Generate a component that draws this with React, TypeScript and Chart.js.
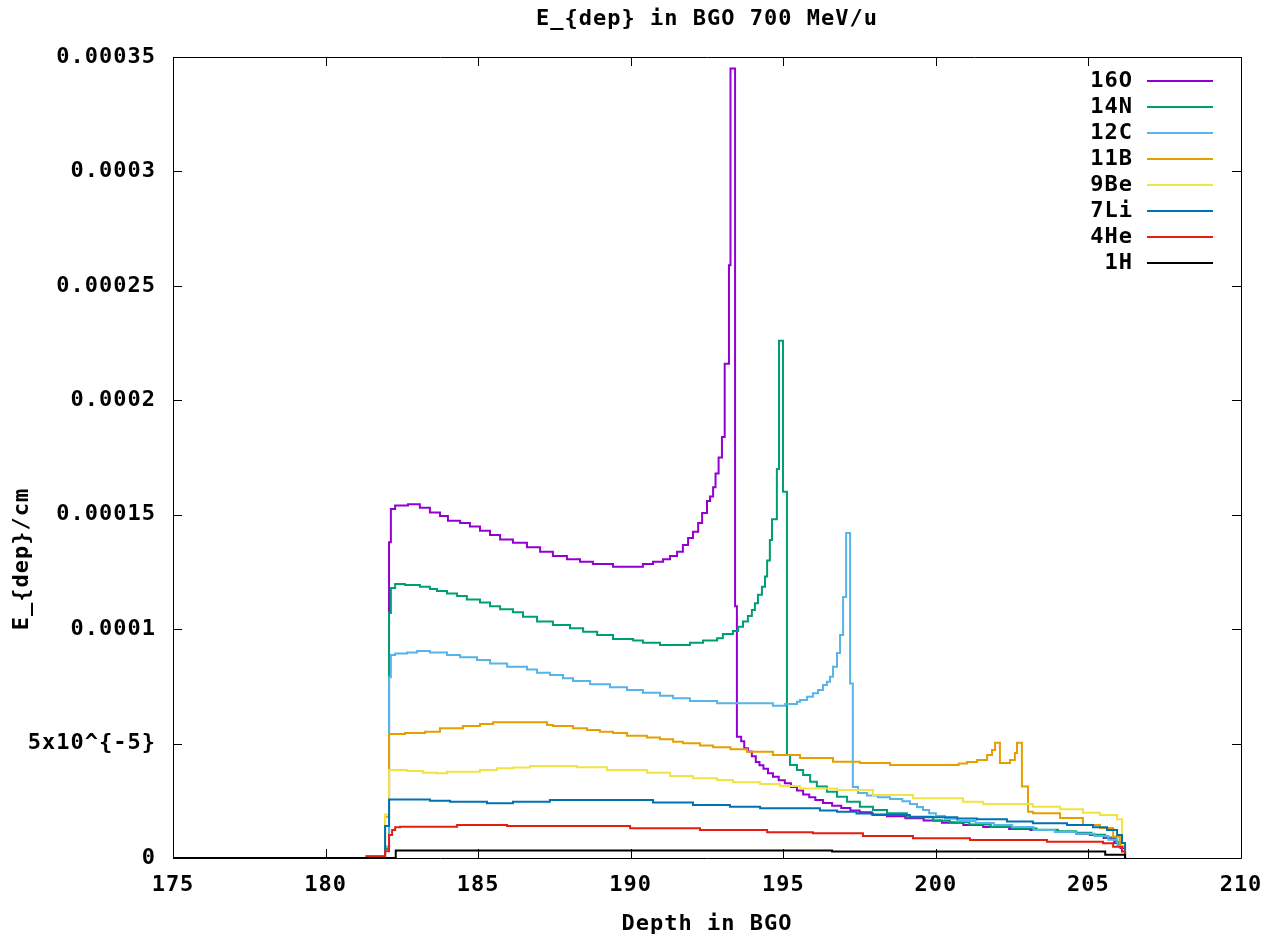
import { useEffect, useRef } from 'react';
import { Chart, registerables } from 'chart.js';

Chart.register(...registerables);

// values are in units of 1e-6 (E_dep per cm)
const SCALE = 1e-6;

const seriesNames = ['16O', '14N', '12C', '11B', '9Be', '7Li', '4He', '1H'];
const seriesColors = ['#9400d3', '#009e73', '#56b4e9', '#e69f00', '#f0e442', '#0072b2', '#e51e10', '#000000'];

const xTickLabels = ['175', '180', '185', '190', '195', '200', '205', '210'];
const yTickLabels = ['0', '5x10^{-5}', '0.0001', '0.00015', '0.0002', '0.00025', '0.0003', '0.00035'];

const titleText = 'E_{dep} in BGO 700 MeV/u';
const xTitleText = 'Depth in BGO';
const yTitleText = 'E_{dep}/cm';

// histogram bin left edges and bin values (x 1e-6)
const o16Edges = [175, 181.35, 181.95, 182.08, 182.14, 182.28, 182.7, 183.09, 183.42, 183.75, 184.01, 184.41, 184.73, 185.06, 185.39, 185.72, 186.14, 186.6, 187.03, 187.45, 187.91, 188.34, 188.76, 189.42, 190.4, 190.73, 191.06, 191.29, 191.52, 191.71, 191.88, 192.04, 192.21, 192.34, 192.5, 192.6, 192.7, 192.78, 192.88, 192.99, 193.08, 193.22, 193.27, 193.42, 193.48, 193.62, 193.72, 193.84, 193.97, 194.1, 194.22, 194.35, 194.5, 194.66, 194.85, 195.05, 195.25, 195.45, 195.65, 195.85, 196.05, 196.3, 196.6, 196.9, 197.2, 197.5, 197.9, 198.4, 199.0, 199.6, 200.2, 200.9, 201.55, 202.4, 203.1, 203.9, 204.6, 205.05, 205.5, 205.85, 206.05, 206.2];
const o16Values = [0, 0.8, 4, 138, 152.5, 154, 154.6, 153, 151, 149.4, 147.4, 146.4, 144.8, 143, 141.1, 139.2, 137.8, 135.8, 133.8, 132, 130.5, 129.5, 128.5, 127.3, 128.5, 129.5, 130.5, 132, 133.8, 136.8, 139.8, 142.6, 146.4, 150.7, 156, 158, 162, 168, 175, 184, 216, 259, 345, 110, 53, 51, 48, 46.5, 44.5, 42, 40.5, 39, 37, 35.5, 34, 32.7, 31, 29.5, 27.8, 26.5, 25.3, 24, 22.8, 21.8, 20.8, 20, 19, 18.2, 17.4, 16.4, 15.4, 14.4, 13.5, 12.7, 12.2, 11.4, 10.6, 10, 8.7, 6.5, 4.4, 0];

const n14Edges = [175, 181.35, 181.95, 182.08, 182.14, 182.28, 182.6, 183.09, 183.42, 183.65, 183.98, 184.31, 184.63, 185.06, 185.39, 185.72, 186.14, 186.47, 186.93, 187.45, 188.01, 188.44, 188.9, 189.42, 190.08, 190.4, 190.96, 191.94, 192.37, 192.83, 193.02, 193.35, 193.52, 193.68, 193.84, 193.97, 194.07, 194.17, 194.3, 194.4, 194.47, 194.56, 194.63, 194.79, 194.86, 194.99, 195.12, 195.22, 195.45, 195.65, 195.88, 196.1, 196.43, 196.76, 197.09, 197.51, 197.94, 198.4, 199.05, 199.91, 200.46, 201.1, 201.8, 202.5, 203.3, 204.0, 204.6, 205.1, 205.55, 205.9, 206.08, 206.2];
const n14Values = [0, 0.8, 4, 107, 118, 119.7, 119.3, 118.5, 117.5, 116.7, 115.6, 114.5, 113, 111.6, 110, 108.7, 107.4, 105.4, 103.3, 101.8, 100.4, 98.9, 97.4, 95.7, 95, 94.1, 93.1, 94.1, 95, 96, 97.9, 99.2, 101, 103.3, 105.7, 108.4, 111.3, 115, 118.5, 123, 130, 139, 148, 170, 226, 160, 45, 40.6, 38.5, 36.3, 33.3, 31.2, 29, 26.8, 24.6, 22.4, 21, 19.6, 17.8, 16.3, 15.6, 14.6, 13.6, 12.9, 12.3, 11.7, 11, 10.2, 9, 7, 4.8, 0];

const c12Edges = [175, 181.35, 181.95, 182.08, 182.14, 182.28, 182.67, 183.0, 183.42, 183.98, 184.41, 184.96, 185.39, 185.95, 186.6, 186.93, 187.35, 187.78, 188.11, 188.67, 189.32, 189.88, 190.4, 190.96, 191.39, 191.94, 192.83, 194.66, 195.06, 195.45, 195.55, 195.78, 195.97, 196.14, 196.3, 196.43, 196.53, 196.63, 196.76, 196.86, 196.96, 197.06, 197.19, 197.28, 197.45, 197.74, 198.1, 198.5, 198.9, 199.15, 199.38, 199.58, 199.78, 200.0, 200.3, 200.7, 201.3, 201.9, 202.5, 203.2, 203.9, 204.6, 205.2, 205.65, 205.95, 206.1, 206.2];
const c12Values = [0, 0.8, 5, 79, 88.7, 89.4, 89.8, 90.4, 89.8, 88.7, 87.7, 86.5, 85, 83.6, 82.4, 81, 80, 78.5, 77.3, 75.9, 74.6, 73.4, 72.2, 70.9, 69.8, 68.6, 67.6, 66.5, 67.3, 68.3, 69, 70.5, 72, 73.4, 75.6, 77, 79.2, 83.6, 89.6, 97.4, 114, 142, 76.3, 31, 28.4, 27.3, 26.5, 25.8, 24.8, 23.6, 22.3, 21, 19.6, 18.3, 17.2, 16.2, 15.3, 14.4, 13.5, 12.2, 11.4, 10.6, 9.6, 8, 5.7, 3, 0];

const b11Edges = [175, 181.35, 181.95, 182.08, 182.6, 183.26, 183.75, 184.5, 185.06, 185.49, 187.26, 187.45, 188.11, 188.57, 188.99, 189.42, 189.88, 190.53, 190.96, 191.39, 191.71, 192.27, 192.7, 193.27, 193.81, 194.66, 195.55, 196.63, 197.51, 198.5, 200.75, 201.02, 201.35, 201.68, 201.84, 201.94, 202.1, 202.43, 202.59, 202.66, 202.82, 203.02, 203.18, 204.07, 204.82, 205.38, 205.81, 206.03, 206.2];
const b11Values = [0, 0.8, 18, 54.2, 54.6, 55.2, 56.7, 57.7, 58.6, 59.3, 58.1, 57.7, 56.7, 55.9, 55.2, 54.6, 53.4, 52.7, 51.9, 50.8, 50.1, 49.2, 48.4, 47.5, 46.4, 45, 43.7, 42.1, 41.5, 40.6, 41.3, 42, 42.8, 45, 47.2, 50.4, 41.5, 42.8, 45.9, 50.4, 31.2, 20.2, 19.6, 17.5, 14.4, 13.1, 9.3, 5, 0];

const be9Edges = [175, 181.35, 181.95, 182.08, 182.67, 183.19, 183.65, 183.98, 185.06, 185.62, 186.14, 186.7, 188.24, 189.22, 190.53, 191.29, 192.04, 192.83, 193.35, 194.24, 194.89, 195.55, 196.76, 197.94, 199.25, 200.89, 201.55, 203.18, 204.07, 204.82, 205.38, 205.94, 206.1, 206.2];
const be9Values = [0, 0.8, 19, 38.5, 38, 37.3, 37, 37.7, 38.5, 39.2, 39.5, 40.2, 39.6, 38.5, 37.3, 35.8, 34.8, 34.1, 33.1, 32.3, 31.5, 30.4, 29.7, 27.5, 26.1, 24.6, 23.6, 22.4, 21.3, 19.8, 18.8, 16.9, 3, 0];

const li7Edges = [175, 181.35, 181.95, 182.08, 183.42, 184.08, 185.29, 186.14, 187.35, 190.73, 192.04, 193.25, 194.24, 196.2, 196.76, 197.4, 197.94, 199.15, 199.91, 200.7, 201.35, 202.33, 203.18, 204.3, 205.15, 205.61, 205.94, 206.1, 206.2];
const li7Values = [0, 0.8, 14, 25.6, 25, 24.6, 23.9, 24.6, 25.3, 24.3, 23.2, 22.4, 21.7, 20.8, 20.2, 19.4, 18.8, 18, 17.8, 17.3, 16.9, 15.9, 15.2, 14.4, 13.4, 12.2, 10, 6.5, 0];

const he4Edges = [175, 181.35, 181.95, 182.08, 182.18, 182.28, 182.44, 184.31, 185.95, 189.98, 192.27, 194.47, 195.97, 197.61, 199.25, 201.12, 203.64, 205.48, 205.81, 206.1, 206.2];
const he4Values = [0, 0.5, 3, 10, 12.2, 13.4, 13.7, 14.4, 14, 13, 12.2, 11.3, 10.8, 9.6, 8.6, 7.9, 7.1, 6.4, 4.9, 2.8, 0];

const h1Edges = [175, 182.3, 196.6, 205.55, 206.2];
const h1Values = [0, 3.3, 2.8, 1.4, 0];

const seriesEdges = [o16Edges, n14Edges, c12Edges, b11Edges, be9Edges, li7Edges, he4Edges, h1Edges];
const seriesValues = [o16Values, n14Values, c12Values, b11Values, be9Values, li7Values, he4Values, h1Values];

const FAMILY = '"DejaVu Sans Mono", "Liberation Mono", monospace';
const FONT = `bold 22px ${FAMILY}`;
const SPACING = '1px';

const spacingPlugin = {
  id: 'gnuSpacing',
  beforeDraw(chart: any) {
    chart.ctx.letterSpacing = SPACING;
  },
};

const framePlugin = {
  id: 'gnuFrame',
  afterDatasetsDraw(chart: any) {
    const { ctx, chartArea: a, scales } = chart;
    const xs = scales.x;
    const ys = scales.y;
    ctx.save();
    ctx.letterSpacing = SPACING;
    ctx.strokeStyle = '#000';
    ctx.lineWidth = 1;
    ctx.beginPath();
    ctx.rect(Math.round(a.left) + 0.5, Math.round(a.top) + 0.5, Math.round(a.right - a.left), Math.round(a.bottom - a.top));
    const tl = 9;
    xs.ticks.forEach((t: any) => {
      const px = Math.round(xs.getPixelForValue(t.value)) + 0.5;
      ctx.moveTo(px, a.bottom);
      ctx.lineTo(px, a.bottom - tl);
      ctx.moveTo(px, a.top);
      ctx.lineTo(px, a.top + tl);
    });
    ys.ticks.forEach((t: any) => {
      const py = Math.round(ys.getPixelForValue(t.value)) + 0.5;
      ctx.moveTo(a.left, py);
      ctx.lineTo(a.left + tl, py);
      ctx.moveTo(a.right, py);
      ctx.lineTo(a.right - tl, py);
    });
    ctx.stroke();

    // legend (inside, top right)
    ctx.font = FONT;
    ctx.textAlign = 'right';
    ctx.textBaseline = 'middle';
    chart.data.datasets.forEach((ds: any, i: number) => {
      const y = 81 + i * 26;
      ctx.fillStyle = '#000';
      ctx.fillText(ds.label, 1133, y);
      ctx.strokeStyle = ds.borderColor;
      ctx.lineWidth = 2;
      ctx.beginPath();
      ctx.moveTo(1147, y);
      ctx.lineTo(1213, y);
      ctx.stroke();
    });

    // titles
    ctx.fillStyle = '#000';
    ctx.textAlign = 'center';
    ctx.fillText(titleText, (a.left + a.right) / 2, 19);
    ctx.fillText(xTitleText, (a.left + a.right) / 2, 924);
    ctx.translate(22, 559);
    ctx.rotate(-Math.PI / 2);
    ctx.fillText(yTitleText, 0, 0);
    ctx.restore();
  },
};

export default function App() {
  const ref = useRef<HTMLCanvasElement>(null);
  useEffect(() => {
    document.body.style.margin = '0';
    const canvas = ref.current!;
    const datasets = seriesNames.map((name, i) => ({
      label: name,
      data: seriesEdges[i].map((x, j) => ({ x, y: seriesValues[i][j] * SCALE })),
      borderColor: seriesColors[i],
      backgroundColor: seriesColors[i],
      borderWidth: 2,
      pointRadius: 0,
      stepped: 'before' as const,
      fill: false,
      order: seriesNames.length - i,
    }));
    const chart = new Chart(canvas, {
      type: 'line',
      data: { datasets },
      options: {
        animation: false,
        responsive: false,
        devicePixelRatio: 1,
        layout: { padding: { top: 57, right: 28, left: 0, bottom: 0 } },
        plugins: {
          legend: { display: false },
          title: { display: false },
          tooltip: { enabled: false },
        },
        scales: {
          x: {
            type: 'linear',
            min: 175,
            max: 210,
            grid: { display: false, drawTicks: false },
            border: { display: false },
            ticks: {
              stepSize: 5,
              padding: 14,
              color: '#000',
              font: { family: FAMILY, size: 22, weight: 'bold' },
              callback: (_v: any, i: number) => xTickLabels[i],
              maxRotation: 0,
            },
            afterFit: (s: any) => {
              s.height = 81;
              s.paddingLeft = 0;
              s.paddingRight = 0;
            },
          },
          y: {
            type: 'linear',
            min: 0,
            max: 0.00035,
            grid: { display: false, drawTicks: false },
            border: { display: false },
            ticks: {
              stepSize: 0.00005,
              padding: 17,
              color: '#000',
              font: { family: FAMILY, size: 22, weight: 'bold' },
              callback: (_v: any, i: number) => yTickLabels[i],
            },
            afterFit: (s: any) => {
              s.width = 173;
              s.paddingTop = 0;
              s.paddingBottom = 0;
            },
          },
        },
      },
      plugins: [spacingPlugin, framePlugin],
    });
    return () => chart.destroy();
  }, []);
  return (
    <div style={{ width: 1269, height: 939 }}>
      <canvas ref={ref} width={1269} height={939} />
    </div>
  );
}
